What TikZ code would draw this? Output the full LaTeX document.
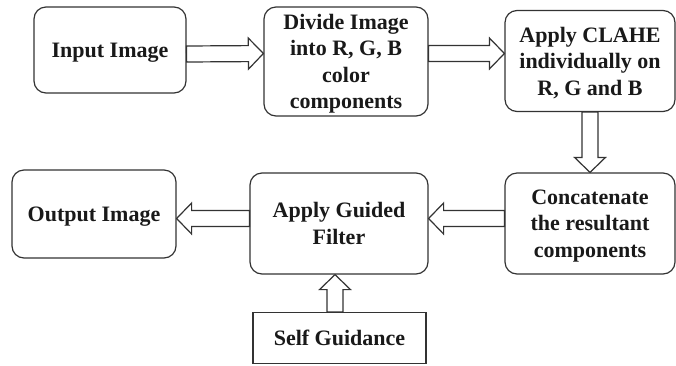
\documentclass[tikz,border=0pt]{standalone}
\usepackage{fontspec}
\setmainfont{Liberation Serif}
\usetikzlibrary{calc}

\tikzset{
	stepbox/.style={draw=black!80, line width=1.2pt, rounded corners=12pt, align=center, inner sep=0pt,
		text depth=0pt, font=\fontsize{22}{26.5}\selectfont\bfseries, text=black!90},
	plainbox/.style={stepbox, rounded corners=0pt},
	hollow/.style={draw=black!80, line width=1.2pt, fill=white, to path={
		($(\tikztostart)!\shaftHalf!90:(\tikztotarget)$)
		-- ($(\tikztotarget)!\headLength!(\tikztostart)!\shaftHalf!-90:(\tikztostart)$)
		-- ($(\tikztotarget)!\headLength!(\tikztostart)!\headHalf!-90:(\tikztostart)$)
		-- (\tikztotarget)
		-- ($(\tikztotarget)!\headLength!(\tikztostart)!\headHalf!90:(\tikztostart)$)
		-- ($(\tikztotarget)!\headLength!(\tikztostart)!\shaftHalf!90:(\tikztostart)$)
		-- ($(\tikztostart)!\shaftHalf!-90:(\tikztotarget)$) -- cycle}}
}

\begin{document}
\begin{tikzpicture}[x=1pt, y=-1pt]
		\newcommand{\shaftHalf}{8pt}
		\newcommand{\headHalf}{15.5pt}
		\newcommand{\headLength}{15pt}
		
		\useasboundingbox (0,0) rectangle (676,365);	% page
		
		% top row
		\node[stepbox, minimum width=152pt, minimum height=86pt] (input) at (110,50) {Input Image};
		\node[stepbox, minimum width=164pt, minimum height=109pt] (divide) at (346,61.5) {Divide Image\\into R, G, B\\color\\components};
		\node[stepbox, minimum width=170pt, minimum height=101pt] (clahe) at (590,61) {Apply CLAHE\\individually on\\R, G and B};
		
		% bottom row
		\node[stepbox, minimum width=170pt, minimum height=101pt] (concat) at (590,223.5) {Concatenate\\the resultant\\components};
		\node[stepbox, minimum width=178pt, minimum height=101pt] (guided) at (339,223.5) {Apply Guided\\Filter};
		\node[stepbox, minimum width=164pt, minimum height=88pt] (output) at (94,214) {Output Image};
		\node[plainbox, minimum width=173pt, minimum height=51pt] (self) at (339.5,338) {Self Guidance};
		
		% hollow arrows
		\draw[hollow] ([yshift=-4pt]input.east) to ([yshift=8pt]divide.west);
		\draw[hollow] ([yshift=8pt]divide.east) to ([yshift=7.5pt]clahe.west);
		\draw[hollow] (clahe.south) to (concat.north);
		\draw[hollow] ([yshift=5pt]concat.west) to ([yshift=5pt]guided.east);
		\draw[hollow] ([yshift=5pt]guided.west) to ([yshift=-4.5pt]output.east);
		\draw[hollow] ([xshift=-4.5pt]self.north) to ([xshift=-4pt]guided.south);
\end{tikzpicture}
\end{document}
